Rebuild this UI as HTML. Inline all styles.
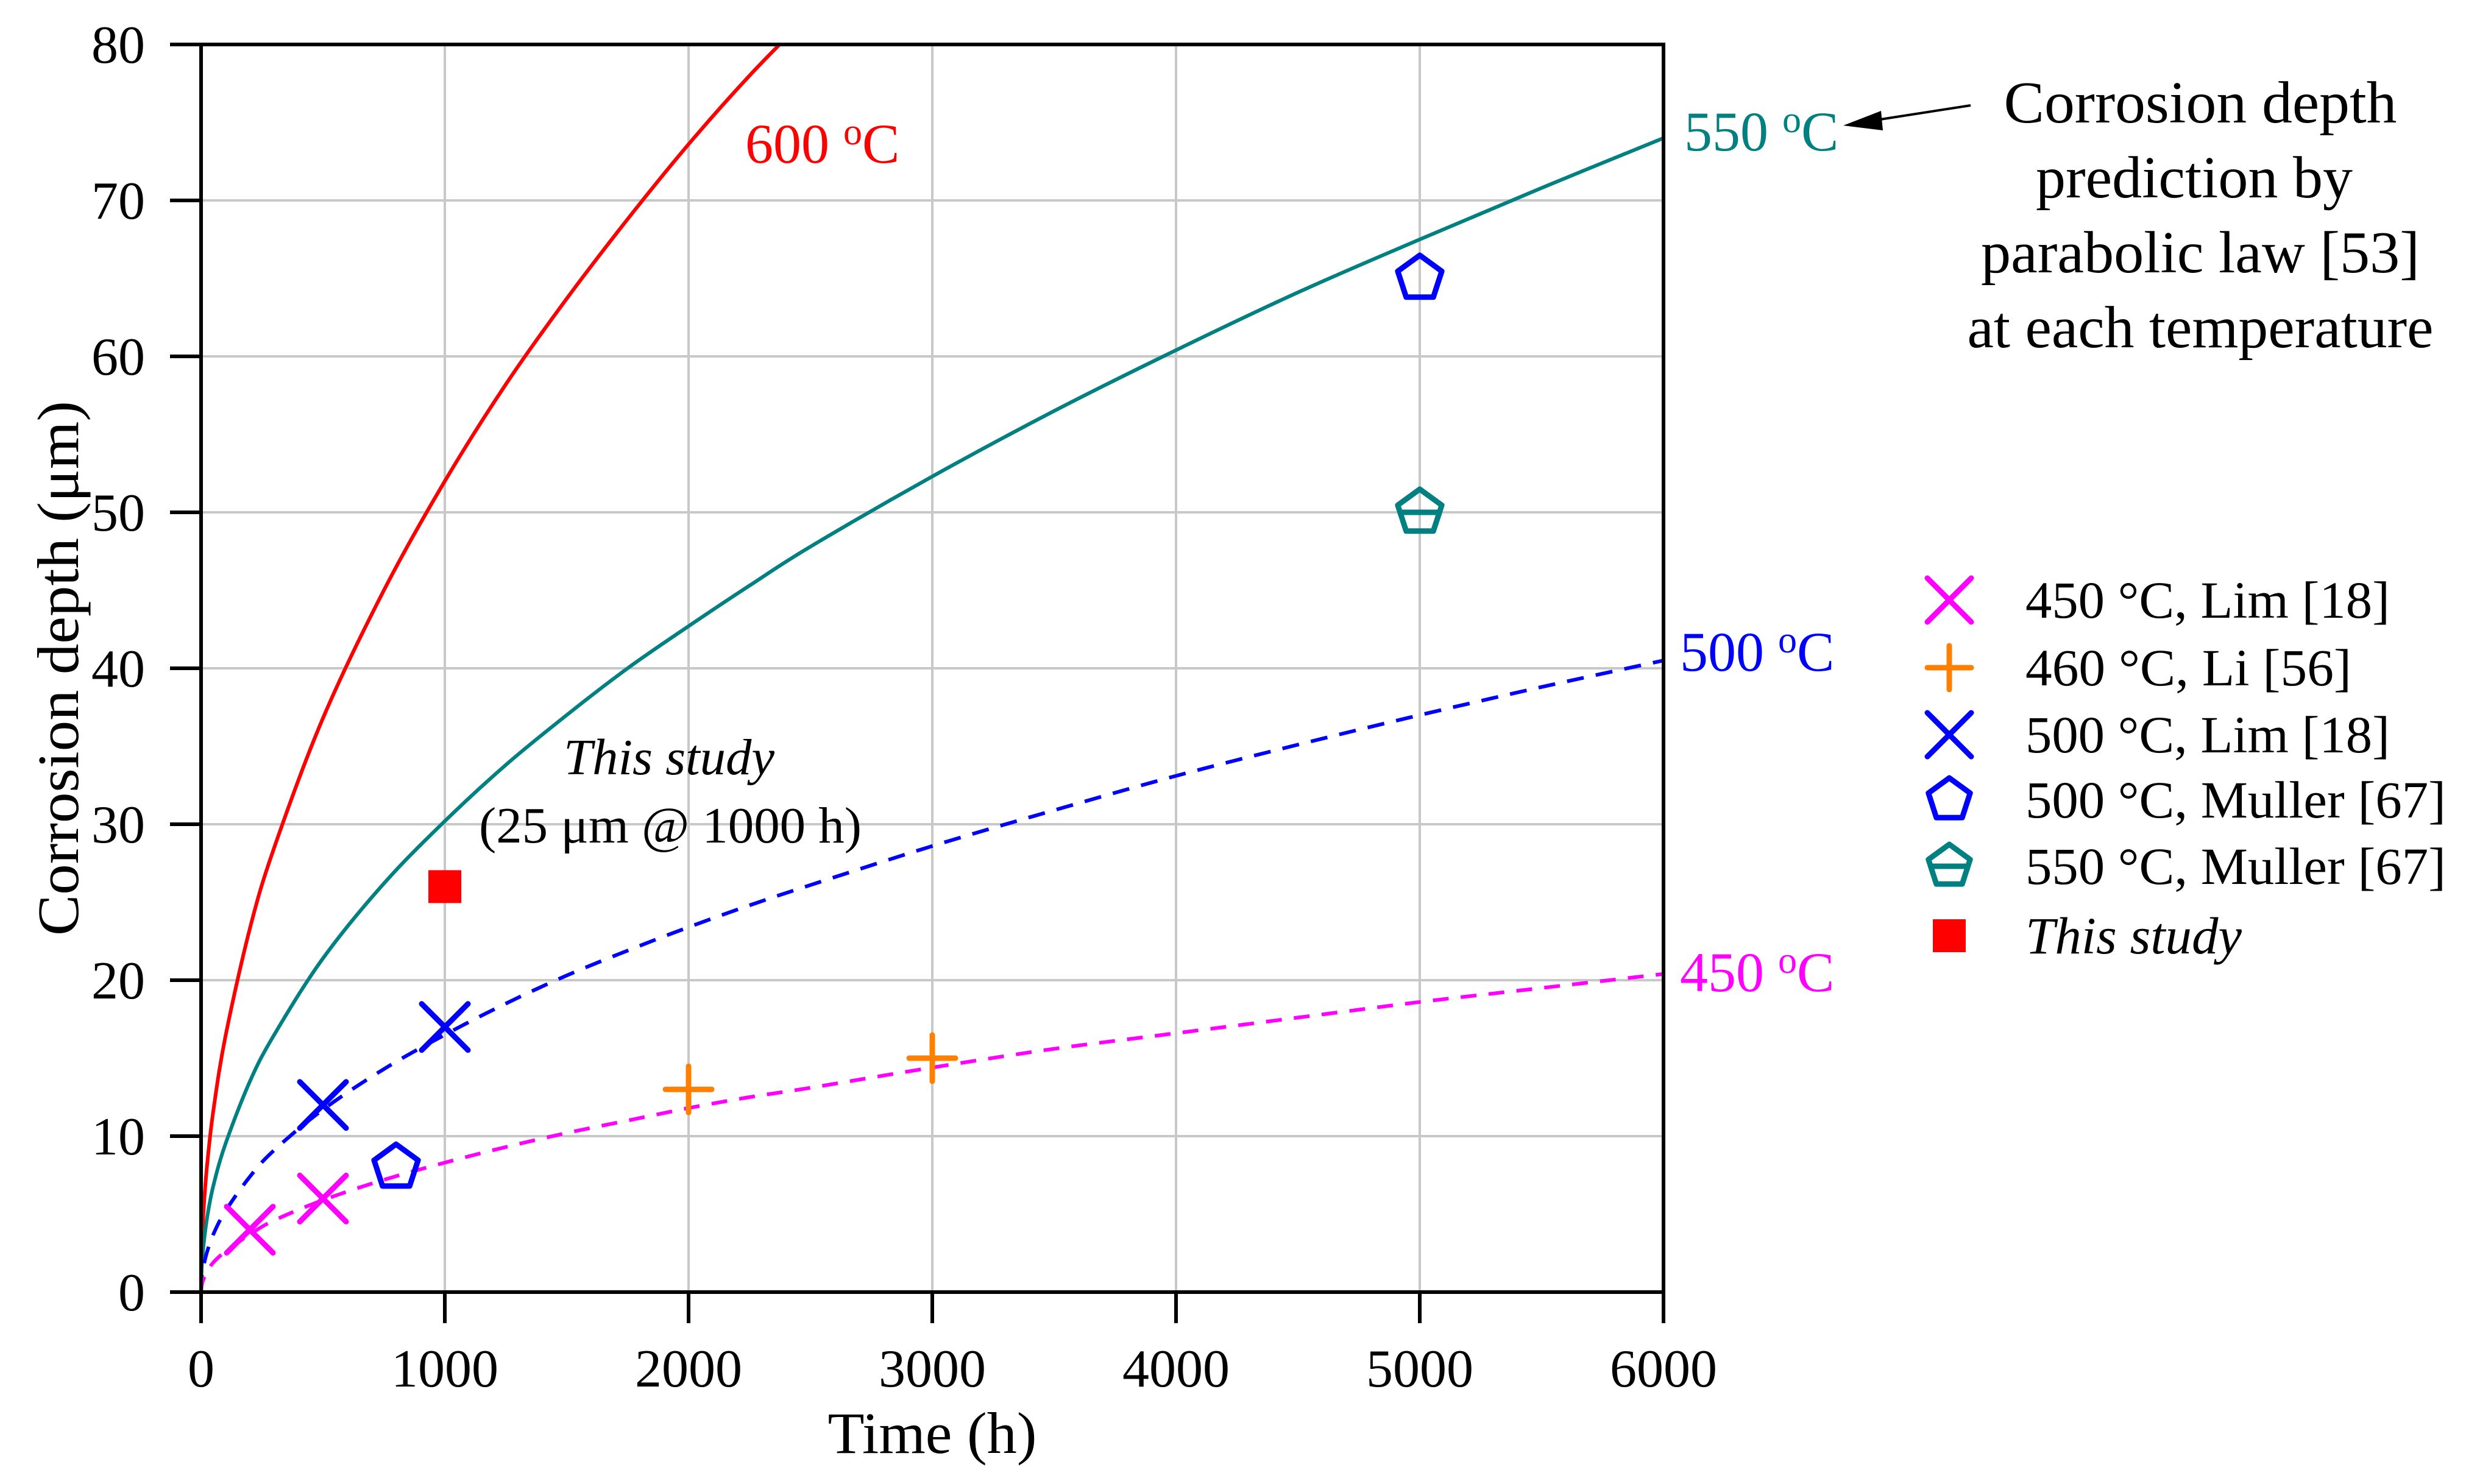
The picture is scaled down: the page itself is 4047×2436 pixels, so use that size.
<!DOCTYPE html>
<html><head><meta charset="utf-8"><style>
html,body{margin:0;padding:0;background:#fff;}
svg{display:block;font-family:"Liberation Serif",serif;}
</style></head><body>
<svg id="chart" width="4047" height="2436" viewBox="0 0 4047 2436" xmlns="http://www.w3.org/2000/svg">
<g id="grid"></g>
<g id="curves"></g>
<g id="axes"></g>
<g id="marks"></g>
<text transform="translate(128,1097) rotate(-90)" text-anchor="middle" font-size="96" textLength="878" lengthAdjust="spacingAndGlyphs">Corrosion depth (μm)</text>
<text x="1530" y="2385" text-anchor="middle" font-size="96" textLength="343" lengthAdjust="spacingAndGlyphs">Time (h)</text>
<text x="1223" y="267" font-size="92" fill="#ff0000">600 <tspan font-size="62" dy="-30">o</tspan><tspan dy="30">C</tspan></text>
<text x="2764" y="247" font-size="92" fill="#008080">550 <tspan font-size="62" dy="-30">o</tspan><tspan dy="30">C</tspan></text>
<text x="2757" y="1101" font-size="92" fill="#0000ff">500 <tspan font-size="62" dy="-30">o</tspan><tspan dy="30">C</tspan></text>
<text x="2757" y="1627" font-size="92" fill="#ff00ff">450 <tspan font-size="62" dy="-30">o</tspan><tspan dy="30">C</tspan></text>
<g font-size="98" text-anchor="middle">
<text x="3611" y="201" textLength="645" lengthAdjust="spacingAndGlyphs">Corrosion depth</text>
<text x="3601" y="324" textLength="520" lengthAdjust="spacingAndGlyphs">prediction by</text>
<text x="3611" y="447" textLength="720" lengthAdjust="spacingAndGlyphs">parabolic law [53]</text>
<text x="3611" y="570" textLength="765" lengthAdjust="spacingAndGlyphs">at each temperature</text>
</g>
<g>
<line x1="3234" y1="173" x2="3060" y2="200" stroke="#000" stroke-width="4"/>
<polygon points="3025,206 3087,182 3090,214" fill="#000"/>
</g>
<text x="1098" y="1271" text-anchor="middle" font-size="84" font-style="italic" textLength="346" lengthAdjust="spacingAndGlyphs">This study</text>
<text x="1100" y="1383" text-anchor="middle" font-size="84" textLength="628" lengthAdjust="spacingAndGlyphs">(25 μm @ 1000 h)</text>
<g id="legend"></g>
</svg>
<script>
const xTicks=[0,1000,2000,3000,4000,5000,6000];
const yTicks=[0,10,20,30,40,50,60,70,80];
const curveT=[0,3,10,25,50,100,200,300,500,750,1000,1250,1500,1750,2000,2250,2500,3000,3500,4000,4500,5000,5500,6000];
const d600=[0,2.85,5.2,8.2,11.6,16.4,23.3,28.5,36.8,45,52,58.2,63.7,68.8,73.6,78,82,90,97,104,110,116,122,127];
const d550=[0,1.65,3.0,4.8,6.8,9.5,13.5,16.5,21.4,26.2,30.2,33.8,37,40,42.7,45.3,47.8,52.3,56.5,60.4,64.1,67.5,70.8,74];
const d500=[0,0.9,1.65,2.6,3.7,5.2,7.4,9.1,11.7,14.3,16.5,18.5,20.3,21.9,23.4,24.8,26.1,28.6,30.9,33.1,35.1,37,38.8,40.5];
const d450=[0,0.46,0.83,1.3,1.9,2.6,3.7,4.6,5.9,7.2,8.3,9.3,10.2,11,11.8,12.5,13.1,14.4,15.6,16.6,17.6,18.6,19.5,20.4];
const lim450T=[200,500], lim450D=[4,6];
const li460T=[2000,3000], li460D=[13,15];
const lim500T=[500,1000], lim500D=[12,17];
const mul500T=[800,5000], mul500D=[8,65];
const mul550T=[5000], mul550D=[50];
const studyT=[1000], studyD=[26];

const X0=330,X1=2730,Y0=2121,Y1=73;
const sx=t=>X0+(t/6000)*(X1-X0);
const sy=d=>Y0-(d/80)*(Y0-Y1);
const NS="http://www.w3.org/2000/svg";
function mk(tag,attrs,parent){const e=document.createElementNS(NS,tag);for(const k in attrs)e.setAttribute(k,attrs[k]);parent.appendChild(e);return e;}
const grid=document.getElementById('grid'),axes=document.getElementById('axes'),curves=document.getElementById('curves'),marks=document.getElementById('marks'),legend=document.getElementById('legend');
xTicks.forEach(t=>{
 if(t>0&&t<6000){const g=mk('line',{x1:sx(t),x2:sx(t),y1:Y1,y2:Y0,stroke:'#c8c8c8','stroke-width':4},grid);
 
 }
 const tk=mk('line',{x1:sx(t),x2:sx(t),y1:Y0,y2:Y0+51,stroke:'#000','stroke-width':6},axes);
 
 
 const lb=mk('text',{x:sx(t),y:2276,'text-anchor':'middle','font-size':88},axes);lb.textContent=t;
 
 
});
yTicks.forEach(d=>{
 if(d>0&&d<80){const g=mk('line',{x1:X0,x2:X1,y1:sy(d),y2:sy(d),stroke:'#c8c8c8','stroke-width':4},grid);
 
 }
 const tk=mk('line',{x1:X0-51,x2:X0,y1:sy(d),y2:sy(d),stroke:'#000','stroke-width':6},axes);
 
 
 const lb=mk('text',{x:238,y:sy(d)+30,'text-anchor':'end','font-size':88},axes);lb.textContent=d;
 
 
});
const frame=mk('rect',{x:X0,y:Y1,width:X1-X0,height:Y0-Y1,fill:'none',stroke:'#000','stroke-width':6},axes);


mk('clipPath',{id:'clip'},curves);
mk('rect',{x:X0,y:Y1,width:X1-X0,height:Y0-Y1},curves.lastChild);
function smoothPath(P){
 let d='M'+P[0][0]+','+P[0][1];
 for(let i=0;i<P.length-1;i++){
  const p0=P[i-1]||P[i],p1=P[i],p2=P[i+1],p3=P[i+2]||P[i+1];
  const c1=[p1[0]+(p2[0]-p0[0])/6,p1[1]+(p2[1]-p0[1])/6];
  const c2=[p2[0]-(p3[0]-p1[0])/6,p2[1]-(p3[1]-p1[1])/6];
  d+='C'+c1[0].toFixed(1)+','+c1[1].toFixed(1)+' '+c2[0].toFixed(1)+','+c2[1].toFixed(1)+' '+p2[0].toFixed(1)+','+p2[1].toFixed(1);
 }
 return d;
}
function curve(vals,color,dash,name){
 const P=curveT.map((t,i)=>[sx(t),sy(vals[i])]);
 const a={d:smoothPath(P),fill:'none',stroke:color,'stroke-width':6,'clip-path':'url(#clip)','stroke-linejoin':'round'};
 if(dash)a['stroke-dasharray']=dash;
 const p=mk('path',a,curves);
 
 
}
curve(d600,'#ff0000',null,'curve-600c');
curve(d550,'#008080',null,'curve-550c');
curve(d500,'#0000ff','28 20','curve-500c');
curve(d450,'#ff00ff','26 20','curve-450c');

function marker(type,cx,cy,color,parent,s){
 s=s||38;const sw=9;let e;
 if(type==='x'){e=mk('path',{d:`M${cx-s},${cy-s}L${cx+s},${cy+s}M${cx-s},${cy+s}L${cx+s},${cy-s}`,stroke:color,'stroke-width':sw,fill:'none','stroke-linecap':'round'},parent);}
 else if(type==='+'){e=mk('path',{d:`M${cx-s},${cy}L${cx+s},${cy}M${cx},${cy-s}L${cx},${cy+s}`,stroke:color,'stroke-width':sw,fill:'none','stroke-linecap':'round'},parent);}
 else if(type==='pent'||type==='pentbar'){
  const r=s;let p=[];for(let i=0;i<5;i++){const a=-Math.PI/2+i*2*Math.PI/5;p.push((cx+r*Math.cos(a)).toFixed(1)+','+(cy+r*Math.sin(a)).toFixed(1));}
  let d='M'+p.join('L')+'Z';
  if(type==='pentbar')d+=`M${cx-r*0.95},${cy}L${cx+r*0.95},${cy}`;
  e=mk('path',{d:d,stroke:color,'stroke-width':sw,fill:'none','stroke-linejoin':'round'},parent);}
 else {e=mk('rect',{x:cx-27,y:cy-27,width:54,height:54,fill:color},parent);}
 return e;
}
function series(T,D,type,color,name){
 T.forEach((t,i)=>{const e=marker(type,sx(t),sy(D[i]),color,marks);
 
 });
}
series(lim450T,lim450D,'x','#ff00ff','point-450c-lim');
series(li460T,li460D,'+','#ff8000','point-460c-li');
series(lim500T,lim500D,'x','#0000ff','point-500c-lim');
series(mul500T,mul500D,'pent','#0000ff','point-500c-muller');
series(mul550T,mul550D,'pentbar','#008080','point-550c-muller');
series(studyT,studyD,'sq','#ff0000','point-this-study');

const legTypes=['x','+','x','pent','pentbar','sq'];
const legColors=['#ff00ff','#ff8000','#0000ff','#0000ff','#008080','#ff0000'];
const legLabels=['450 °C, Lim [18]','460 °C, Li [56]','500 °C, Lim [18]','500 °C, Muller [67]','550 °C, Muller [67]','This study'];
const legWidths=[598,535,598,690,690,355];
const legY=[985,1096,1206,1313,1422,1536];
legLabels.forEach((l,i)=>{
 const m=marker(legTypes[i],3199,legY[i],legColors[i],legend,36);
 
 
 const t=mk('text',{x:3324,y:legY[i]+29,'font-size':86,textLength:legWidths[i],lengthAdjust:'spacingAndGlyphs'},legend);
 if(i===5)t.setAttribute('font-style','italic');
 t.textContent=l;
 
 
});
</script>
</body></html>
